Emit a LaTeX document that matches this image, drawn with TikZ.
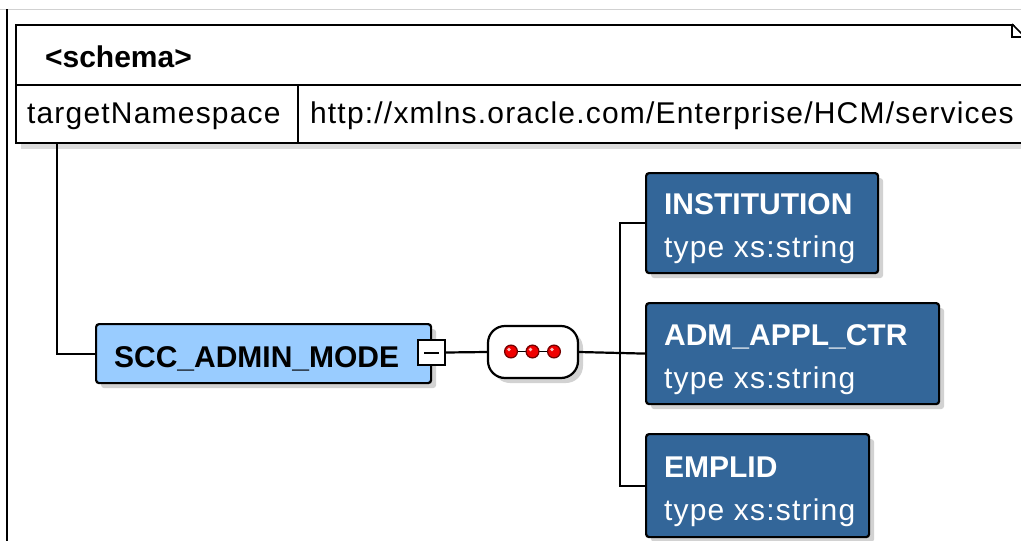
\documentclass[tikz,border=0pt]{standalone}
\usepackage{fontspec}
\setmainfont{Liberation Sans}
\newfontfamily\regf{Liberation Sans}[LetterSpace=4]
\usetikzlibrary{shadows}
\definecolor{lightblue}{HTML}{99CCFF}
\definecolor{darkblue}{HTML}{336699}
\definecolor{dotred}{HTML}{F00000}
\begin{document}
\begin{tikzpicture}[x=1pt,y=-1pt,line width=2.2pt,
  shad/.style={drop shadow={shadow xshift=5pt,shadow yshift=-5pt,fill=black!35,opacity=0.5}},
  elem/.style={draw=black,fill=darkblue,rounded corners=3pt,anchor=north west,inner sep=0pt,shad},
  ttl/.style={anchor=base west,inner sep=0pt,font=\fontsize{30}{36}\selectfont\bfseries},
  reg/.style={anchor=base west,inner sep=0pt,font=\fontsize{30}{36}\selectfont\regf},
  wt/.style={text=white},
  dot/.style={fill=dotred,draw=black!55!red,line width=1.2pt},
  glint/.style={fill=white,opacity=0.75}]
\useasboundingbox (0,0) rectangle (1021,541);
\clip (0,0) rectangle (1021,541);
\fill[white] (0,0) rectangle (1021,541);
\draw[black!18,line width=1pt] (0,9) -- (1021,9);
\draw[line width=1.8pt] (7,9) -- (7,541);

% schema box
\node[draw,fill=white,anchor=north west,inner sep=0pt,minimum width=1040,minimum height=118,
  drop shadow={shadow xshift=5pt,shadow yshift=-6pt,fill=black!30,opacity=0.45}] (schema) at (15,24) {};
\coordinate (rowl) at (15,85);
\coordinate (rowr) at (1021,85);
\draw (rowl) -- (rowr);
\coordinate (divt) at (298,85);
\coordinate (divb) at (298,142);
\draw (divt) -- (divb);
% folded corner
\fill[white] (1012,22.5) -- (1030,22.5) -- (1030,41) -- cycle;
\draw[line width=1.5pt] (1012,24) -- (1021.5,33.5);
\draw[line width=1.5pt] (1012,24) -- (1012,37) -- (1025,37);
\node[ttl] (schemalbl) at (44,67) {<schema>};
\node[reg] (tnsk) at (26,123) {targetNamespace};
\node[reg] (tnsv) at (309,123) {http://xmlns.oracle.com/Enterprise/HCM/services};

% root element
\node[draw=black,fill=lightblue,rounded corners=3pt,anchor=north west,inner sep=0pt,
  minimum width=335,minimum height=59,shad] (scc) at (95,323) {};
\node[ttl] (scclbl) at (113,367) {SCC\_ADMIN\_MODE};
\node[draw=black,fill=white,line width=2pt,minimum width=27,minimum height=25,inner sep=0pt] (expand) at (431.5,352.5) {};
\draw[line width=2pt] ([xshift=-7.5pt]expand.center) -- ([xshift=7.5pt]expand.center);

% sequence compositor
\node[draw=black,fill=white,rounded corners=17pt,minimum width=90,minimum height=52,inner sep=0pt,shad] (seq) at (533,352) {};
\coordinate (d1) at (511,351.5);
\coordinate (d3) at (554,351.5);
\draw[line width=1.6pt] (d1) -- (d3);
\foreach \cx in {511,532.5,554} {
  \draw[dot] (\cx,351.5) circle (6.4);
  \fill[glint] (\cx-2,349.5) circle (1.8);
}

% children
\node[elem,minimum width=232,minimum height=100] (inst) at (645,172) {};
\node[ttl,wt] (instn) at (663,214) {INSTITUTION};
\node[reg,wt] (instt) at (663,257) {type xs:string};
\node[elem,minimum width=293,minimum height=101] (adm) at (645,302) {};
\node[ttl,wt] (admn) at (663,345) {ADM\_APPL\_CTR};
\node[reg,wt] (admt) at (663,388) {type xs:string};
\node[elem,minimum width=223,minimum height=103] (empl) at (645,433) {};
\node[ttl,wt] (empln) at (663,477) {EMPLID};
\node[reg,wt] (emplt) at (663,520) {type xs:string};

% connectors
\coordinate (tnsbot) at (57,142);
\coordinate (bus) at (620,353);
\draw (tnsbot) |- (scc.west);
\draw (expand.east) -- (seq.west);
\draw (seq.east) -- (adm.west);
\draw (inst.west) -| (bus) |- (empl.west);
\end{tikzpicture}
\end{document}
